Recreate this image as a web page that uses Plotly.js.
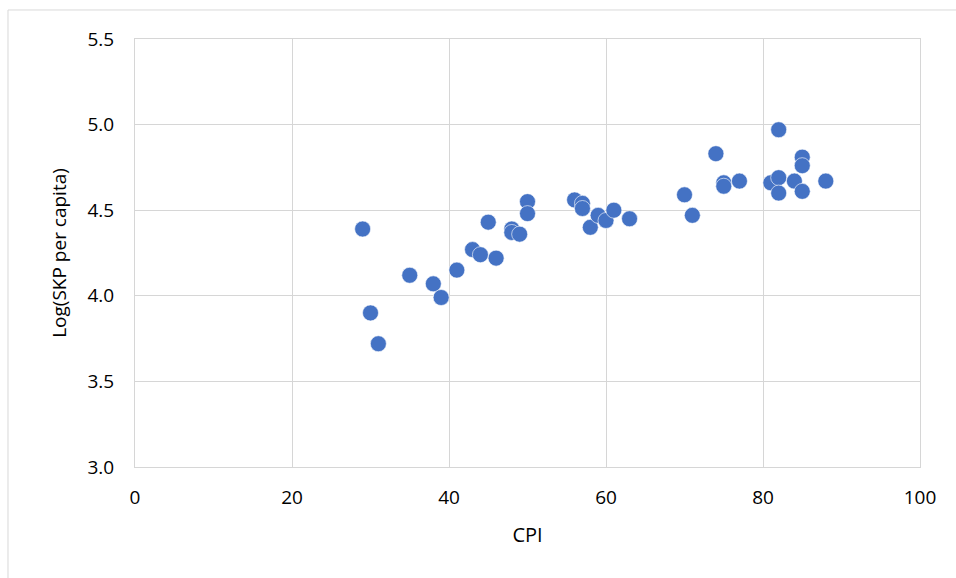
<!DOCTYPE html>
<html>
<head>
<meta charset="utf-8">
<script src="https://cdn.plot.ly/plotly-3.0.1.min.js"></script>
<style>html,body{margin:0;padding:0;background:#fff;}#chart{width:956px;height:578px;}</style>
</head>
<body>
<div id="chart"></div>
<script>
const cpi = [29,30,31,35,38,39,41,43,44,45,46,48,48,49,50,50,56,57,57,58,59,60,61,63,70,71,74,75,75,77,81,82,82,82,84,85,85,85,88];
const logSkp = [4.39,3.90,3.72,4.12,4.07,3.99,4.15,4.27,4.24,4.43,4.22,4.39,4.37,4.36,4.55,4.48,4.56,4.54,4.51,4.40,4.47,4.44,4.50,4.45,4.59,4.47,4.83,4.66,4.64,4.67,4.66,4.97,4.69,4.60,4.67,4.81,4.76,4.61,4.67];
const xTicks = [0,20,40,60,80,100];
const yTicks = [3.0,3.5,4.0,4.5,5.0,5.5];
const yTickText = ['3.0','3.5','4.0','4.5','5.0','5.5'];

const fontFam = '"Open Sans", sans-serif';
const grid = '#d6d6d6';
const trace = {
  x: cpi, y: logSkp, type: 'scatter', mode: 'markers',
  marker: {color: '#4472C4', size: 16, line: {color: '#ffffff', width: 0.6}},
  hoverinfo: 'x+y'
};
const layout = {
  width: 956, height: 578,
  margin: {l: 135, r: 36, t: 39, b: 111},
  paper_bgcolor: '#ffffff', plot_bgcolor: '#ffffff',
  showlegend: false,
  font: {family: fontFam, size: 20, color: '#000000'},
  xaxis: {
    range: [0, 100], tickvals: xTicks, ticktext: xTicks.map(String),
    showgrid: true, gridcolor: grid, gridwidth: 1,
    zeroline: false, showline: true, mirror: true, linecolor: grid, linewidth: 1,
    ticks: '', ticklabelstandoff: 13,
    tickfont: {family: fontFam, size: 19, color: '#000'},
    title: {text: 'CPI', font: {family: fontFam, size: 20, color: '#000'}, standoff: 19}
  },
  yaxis: {
    range: [3.0, 5.5], tickvals: yTicks, ticktext: yTickText,
    showgrid: true, gridcolor: grid, gridwidth: 1,
    zeroline: false, showline: true, mirror: true, linecolor: grid, linewidth: 1,
    ticks: '', ticklabelstandoff: 16,
    tickfont: {family: fontFam, size: 19, color: '#000'},
    title: {text: 'Log(SKP per capita)', font: {family: fontFam, size: 19, color: '#000'}, standoff: 15}
  },
  shapes: [{
    type: 'rect', xref: 'paper', yref: 'paper',
    x0: -0.1618, x1: 1.06, y0: -0.3, y1: 1.0678,
    line: {color: '#d9d9d9', width: 1}, fillcolor: 'rgba(0,0,0,0)', layer: 'below'
  }]
};
Plotly.newPlot('chart', [trace], layout, {displayModeBar: false, staticPlot: true});
</script>
</body>
</html>
